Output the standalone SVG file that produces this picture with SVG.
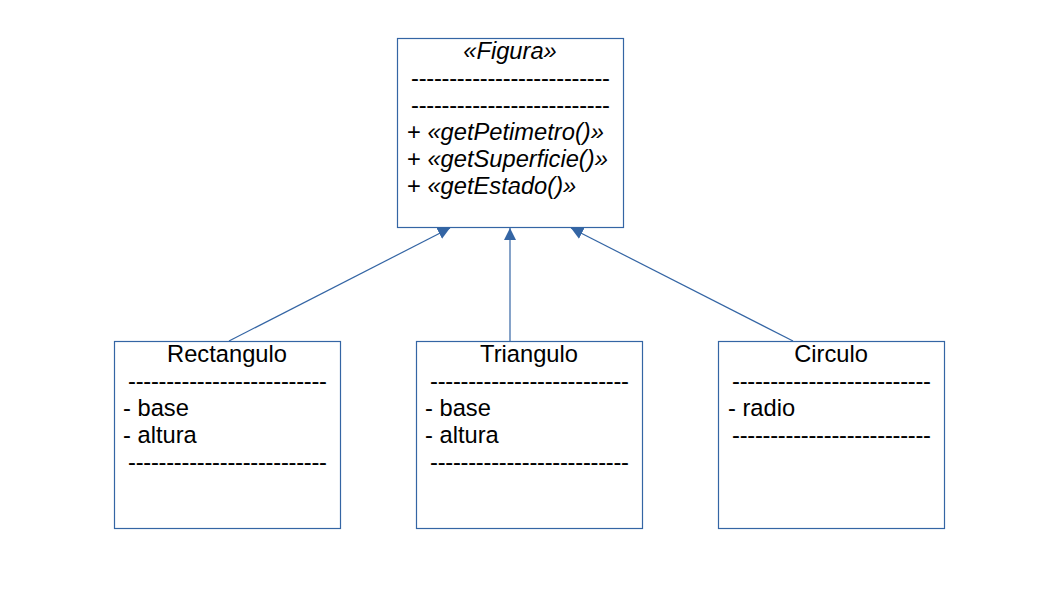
<svg xmlns="http://www.w3.org/2000/svg" width="1058" height="595" viewBox="0 0 1058 595">
<defs>
<style>
.box{fill:#ffffff;stroke:#3465a4;stroke-width:1.2}
.t{font-family:"Liberation Sans",Arial,sans-serif;font-size:23.7px;fill:#000000}
.c{text-anchor:middle}
.i{font-style:italic}
.conn{stroke:#3465a4;stroke-width:1.2;fill:none}
</style>
<marker id="arr" viewBox="0 0 12 12" refX="12" refY="6" markerWidth="12" markerHeight="12" markerUnits="userSpaceOnUse" orient="auto">
<path d="M0,0 L12,6 L0,12 Z" fill="#3465a4"/>
</marker>
</defs>
<rect width="1058" height="595" fill="#ffffff"/>
<g id="connectors">
<line class="conn" x1="229" y1="341" x2="450" y2="228" marker-end="url(#arr)"/>
<line class="conn" x1="510" y1="341" x2="510" y2="228" marker-end="url(#arr)"/>
<line class="conn" x1="793" y1="341" x2="571" y2="228" marker-end="url(#arr)"/>
</g>
<g id="figura">
<rect class="box" x="397.5" y="38.5" width="226" height="189"/>
<text class="t c i" x="510" y="59">«Figura»</text>
<text class="t" x="411" y="86" textLength="199" lengthAdjust="spacing">--------------------------</text>
<text class="t" x="411" y="113" textLength="199" lengthAdjust="spacing">--------------------------</text>
<text class="t" x="407" y="140">+ <tspan class="i">«getPetimetro()»</tspan></text>
<text class="t" x="407" y="167">+ <tspan class="i">«getSuperficie()»</tspan></text>
<text class="t" x="407" y="194">+ <tspan class="i">«getEstado()»</tspan></text>
</g>
<g id="rectangulo">
<rect class="box" x="114.5" y="341.5" width="226" height="187"/>
<text class="t c" x="227" y="362">Rectangulo</text>
<text class="t" x="128" y="389" textLength="199" lengthAdjust="spacing">--------------------------</text>
<text class="t" x="123" y="416">- base</text>
<text class="t" x="123" y="443">- altura</text>
<text class="t" x="128" y="470" textLength="199" lengthAdjust="spacing">--------------------------</text>
</g>
<g id="triangulo">
<rect class="box" x="416.5" y="341.5" width="226" height="187"/>
<text class="t c" x="529" y="362">Triangulo</text>
<text class="t" x="430" y="389" textLength="199" lengthAdjust="spacing">--------------------------</text>
<text class="t" x="425" y="416">- base</text>
<text class="t" x="425" y="443">- altura</text>
<text class="t" x="430" y="470" textLength="199" lengthAdjust="spacing">--------------------------</text>
</g>
<g id="circulo">
<rect class="box" x="718.5" y="341.5" width="226" height="187"/>
<text class="t c" x="831" y="362">Circulo</text>
<text class="t" x="732" y="389" textLength="199" lengthAdjust="spacing">--------------------------</text>
<text class="t" x="728" y="416">- radio</text>
<text class="t" x="732" y="443" textLength="199" lengthAdjust="spacing">--------------------------</text>
</g>
</svg>
